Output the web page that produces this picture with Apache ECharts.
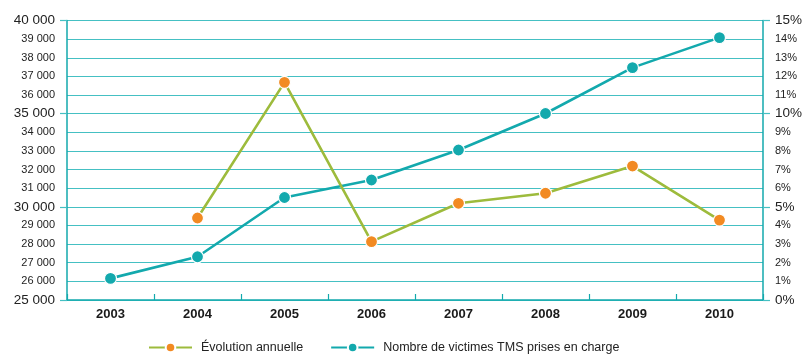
<!DOCTYPE html>
<html>
<head>
<meta charset="utf-8">
<script src="https://cdn.jsdelivr.net/npm/echarts@6/dist/echarts.min.js"></script>
<style>
html,body{margin:0;padding:0;background:#fff;}
#chart{width:805px;height:354px;}
</style>
</head>
<body>
<div id="chart"></div>
<script>
const years = ['2003','2004','2005','2006','2007','2008','2009','2010'];
const victimes = [26160, 27320, 30500, 31440, 33050, 35010, 37470, 39080];
const evolution = [null, 4.40, 11.68, 3.13, 5.19, 5.73, 7.19, 4.29];
const seriesNames = ['Évolution annuelle', 'Nombre de victimes TMS prises en charge'];

const TEAL = '#13a9ad';
const GRID = '#45c0c3';
const GREEN = '#9dbb3c';
const ORANGE = '#f28a22';
const FONT = "'Liberation Sans', Arial, sans-serif";

const chart = echarts.init(document.getElementById('chart'), null, {renderer:'canvas'});
function fmtThousands(v){ return String(v).replace(/\B(?=(\d{3})+(?!\d))/g, ' '); }

chart.setOption({
  animation:false,
  textStyle:{fontFamily:FONT},
  grid:{left:67, right:38, top:20.5, bottom:54, containLabel:false},
  legend:{
    top:336, left:143, padding:5, itemGap:27, itemWidth:43, itemHeight:12,
    data:seriesNames,
    textStyle:{fontSize:12.5, color:'#222', fontFamily:FONT, padding:[0,0,0,4]}
  },
  xAxis:{
    type:'category', data:years, boundaryGap:true,
    axisLine:{lineStyle:{color:TEAL, width:1.5}},
    axisTick:{show:true, inside:true, length:6, lineStyle:{color:TEAL, width:1.2}},
    axisLabel:{color:'#1a1a1a', fontSize:13, fontWeight:'bold', margin:8, fontFamily:FONT}
  },
  yAxis:[
    {
      type:'value', position:'left', min:25000, max:40000, interval:1000,
      axisLine:{show:true, lineStyle:{color:TEAL, width:1.5}},
      axisTick:{show:false},
      splitLine:{show:true, lineStyle:{color:GRID, width:1.2}},
      axisLabel:{
        margin:12, color:'#222',
        formatter:function(v){ return (v % 5000 === 0 ? '{b|' : '{s|') + fmtThousands(v) + '}'; },
        rich:{b:{fontSize:13.5, color:'#222', fontFamily:FONT}, s:{fontSize:11, color:'#222', fontFamily:FONT}}
      }
    },
    {
      type:'value', position:'right', min:0, max:15, interval:1,
      axisLine:{show:true, lineStyle:{color:TEAL, width:1.5}},
      axisTick:{show:false},
      splitLine:{show:false},
      axisLabel:{
        margin:12, color:'#222',
        formatter:function(v){ return (v % 5 === 0 ? '{b|' : '{s|') + v + '%}'; },
        rich:{b:{fontSize:13.5, color:'#222', fontFamily:FONT}, s:{fontSize:11, color:'#222', fontFamily:FONT}}
      }
    },
    {
      type:'value', position:'left', min:25000, max:40000, interval:5000,
      axisLine:{show:false}, axisLabel:{show:false}, splitLine:{show:false},
      axisTick:{show:true, length:7, lineStyle:{color:GRID, width:1.2}}
    },
    {
      type:'value', position:'right', min:0, max:15, interval:5,
      axisLine:{show:false}, axisLabel:{show:false}, splitLine:{show:false},
      axisTick:{show:true, length:7, lineStyle:{color:GRID, width:1.2}}
    }
  ],
  series:[
    {
      name:seriesNames[1], type:'line', yAxisIndex:0, data:victimes,
      symbol:'circle', symbolSize:12, showSymbol:true,
      lineStyle:{color:TEAL, width:2.6},
      itemStyle:{color:TEAL, borderColor:'#fff', borderWidth:1.2},
      z:3
    },
    {
      name:seriesNames[0], type:'line', yAxisIndex:1, data:evolution,
      symbol:'circle', symbolSize:12, showSymbol:true, connectNulls:false,
      lineStyle:{color:GREEN, width:2.6},
      itemStyle:{color:ORANGE, borderColor:'#fff', borderWidth:1.2},
      z:4
    }
  ]
});
</script>
</body>
</html>
